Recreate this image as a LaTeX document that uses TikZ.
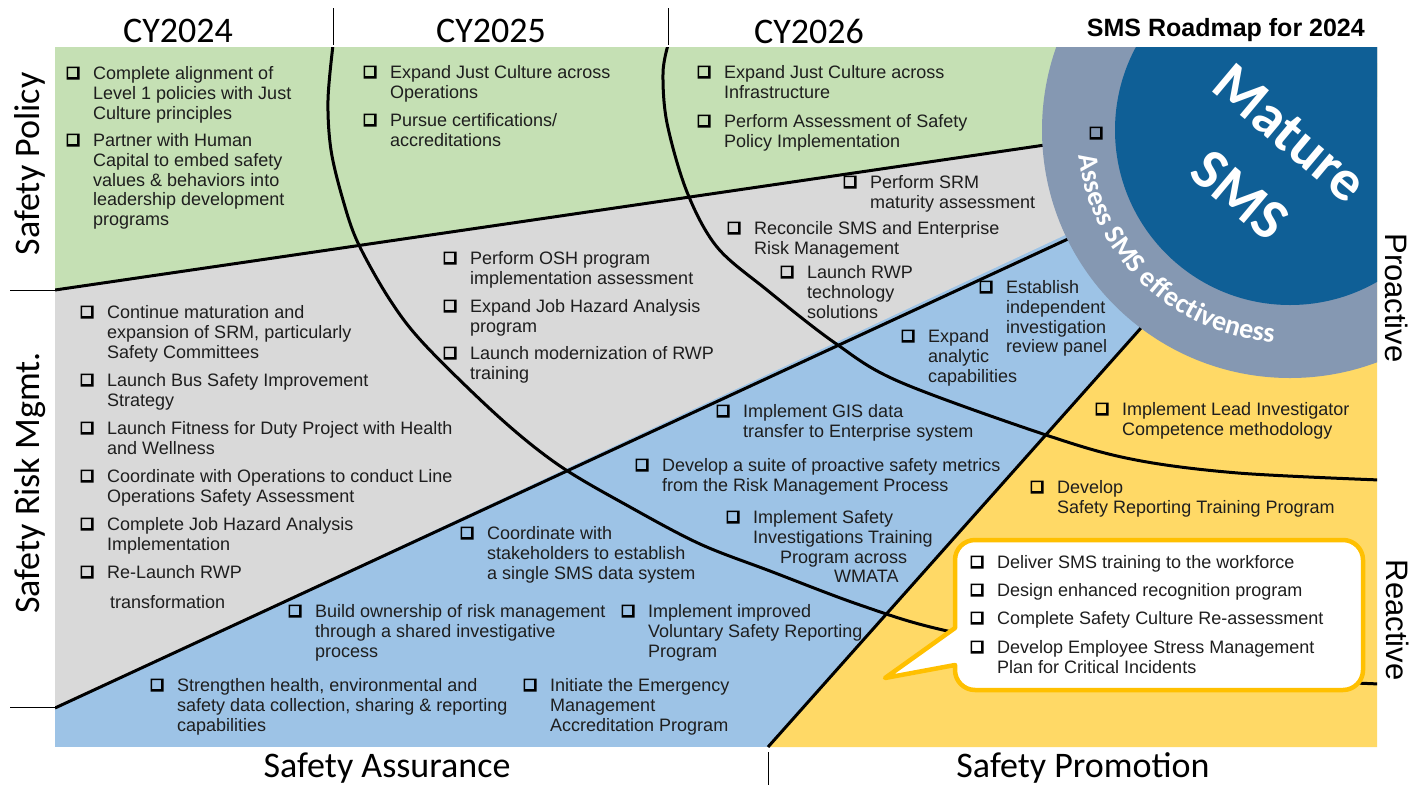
\documentclass[tikz,border=0pt]{standalone}
\usepackage{fontspec}
\setmainfont{Liberation Sans}
\newfontfamily\calfont{Carlito}
\usetikzlibrary{decorations.text}
\definecolor{pgreen}{HTML}{C5E0B4}
\definecolor{pgray}{HTML}{D9D9D9}
\definecolor{pblue}{HTML}{9DC3E6}
\definecolor{pyellow}{HTML}{FFD966}
\definecolor{pring}{HTML}{8598B2}
\definecolor{pdark}{HTML}{0F5F96}
\definecolor{pgold}{HTML}{FFC000}
\definecolor{ptext}{HTML}{1E1E1E}
\tikzset{
  itm/.style={anchor=north west, inner sep=0pt, align=left, font=\fontsize{18}{19.7}\selectfont, text=ptext},
  hdr/.style={font=\calfont\fontsize{36}{40}\selectfont, inner sep=0pt},
  sidelbl/.style={font=\fontsize{31}{34}\selectfont, inner sep=0pt},
  divline/.style={line width=3pt, black},
  tickline/.style={line width=1pt, black},
  cbox/.pic={\fill[black, even odd rule] (-6.5,-6.5) rectangle (6.5,6.5) (-4.9,-4.9) rectangle (4.2,4.2);},
}
\newcommand\bitem[4]{\pic at (#2-20,#3) {cbox}; \node[itm] (#1) at (#2,#3-6.6) {#4};}
\begin{document}
\begin{tikzpicture}[x=1pt,y=-1pt]
\useasboundingbox (0,0) rectangle (1427,785);
\fill[white] (0,0) rectangle (1427,785);
\begin{scope}
\clip (55,47) rectangle (1377,747);
\fill[pblue] (55,47) rectangle (1377,747);
\fill[pgray] (55,708) -- (55,47) -- (1377,47) -- (1377,89) -- cycle;
\fill[pgreen] (55,290) -- (55,47) -- (1377,47) -- (1377,97) -- cycle;
\fill[pyellow] (768,747) -- (1377,747) -- (1377,63) -- cycle;
% boundary lines
\draw[divline] (55,290) -- (1120,134);
\draw[divline] (55,708) -- (1150,201);
\draw[divline] (768,747) -- (1181,283);
% year arcs
\draw[divline] plot[smooth, tension=0.55] coordinates {(333,45) (328,100) (331,150) (343,200) (358,243) (390,300) (425,345) (500,418) (560,466) (630,507) (700,544) (770,571) (860,605) (943,630) (1100,660) (1250,677) (1380,684)};
\draw[divline] plot[smooth, tension=0.55] coordinates {(668,45) (663,73) (667,123) (687,192) (717,247) (767,290) (835,343) (900,382) (1052,437) (1136,460) (1238,473) (1380,480)};
% maturity ring
\fill[pring] (1290,130) circle[radius=248pt];
\fill[pdark] (1290,130) circle[radius=175pt];
\node[rotate=-40, font=\calfont\bfseries\fontsize{58}{58}\selectfont, text=white, inner sep=0pt] (mature) at (1290,133) {Mature};
\node[rotate=-40, font=\calfont\bfseries\fontsize{58}{58}\selectfont, text=white, inner sep=0pt] (sms) at (1240,195) {SMS};
\path[decorate, decoration={text along path, text align=left,
   text={|\color{white}\calfont\bfseries\fontsize{28}{30}\selectfont|Assess SMS effectiveness}}]
   (1290,130) ++(187:213pt) arc[start angle=187, end angle=285, radius=213pt];
\end{scope}
\pic at (1096,133) {cbox};
% speech bubble
\draw[line width=4.5pt, pgold, fill=white, line join=round] (955,628) -- (955,560) arc[start angle=180,end angle=90,radius=20pt] -- (1343,540) arc[start angle=90,end angle=0,radius=20pt] -- (1363,670) arc[start angle=0,end angle=-90,radius=20pt] -- (975,690) arc[start angle=-90,end angle=-180,radius=20pt] -- (955,665) -- (885,678) -- cycle;
% ticks
\draw[tickline] (333,8) -- (333,45);
\draw[tickline] (668,8) -- (668,45);
\draw[tickline] (10,290) -- (55,290);
\draw[tickline] (10,707) -- (55,707);
\draw[tickline] (768,752) -- (768,785);
% headers and side labels
\node[hdr] (cy24) at (178,31) {CY2024};
\node[hdr] (cy25) at (491,31) {CY2025};
\node[hdr] (cy26) at (809,31) {CY2026};
\node[font=\bfseries\fontsize{25}{28}\selectfont, anchor=east, inner sep=0pt] (title) at (1365,30) {SMS Roadmap for 2024};
\node[hdr, rotate=90] (sp) at (30,164) {Safety Policy};
\node[hdr, rotate=90] (srm) at (30,483) {Safety Risk Mgmt.};
\node[hdr] (sa) at (387,768) {Safety Assurance};
\node[hdr] (spr) at (1083,768) {Safety Promotion};
\node[sidelbl, rotate=-90] (pro) at (1397,298) {Proactive};
\node[sidelbl, rotate=-90] (rea) at (1398,620) {Reactive};
% Safety policy items
\bitem{i1}{93}{73}{Complete alignment of\\Level 1 policies with Just\\Culture principles}
\bitem{i2}{93}{140}{Partner with Human\\Capital to embed safety\\values \& behaviors into\\leadership development\\programs}
\bitem{i3}{390}{72}{Expand Just Culture across\\Operations}
\bitem{i4}{390}{120}{Pursue certifications/\\accreditations}
\bitem{i5}{724}{72}{Expand Just Culture across\\Infrastructure}
\bitem{i6}{724}{121}{Perform Assessment of Safety\\Policy Implementation}
% Safety risk management items
\bitem{i7}{870}{182}{Perform SRM\\maturity assessment}
\bitem{i8}{754}{228}{Reconcile SMS and Enterprise\\Risk Management}
\bitem{i9}{807}{272}{Launch RWP\\technology\\solutions}
\bitem{i10}{470}{258}{Perform OSH program\\implementation assessment}
\bitem{i11}{470}{306}{Expand Job Hazard Analysis\\program}
\bitem{i12}{470}{353}{Launch modernization of RWP\\training}
\bitem{i13}{107}{312}{Continue maturation and\\expansion of SRM, particularly\\Safety Committees}
\bitem{i14}{107}{380}{Launch Bus Safety Improvement\\Strategy}
\bitem{i15}{107}{428}{Launch Fitness for Duty Project with Health\\and Wellness}
\bitem{i16}{107}{476}{Coordinate with Operations to conduct Line\\Operations Safety Assessment}
\bitem{i17}{107}{524}{Complete Job Hazard Analysis\\Implementation}
\bitem{i18}{107}{572}{Re-Launch RWP}
\node[itm] (i18b) at (110,595) {transformation};
% Safety assurance items
\bitem{i19}{1006}{287}{Establish\\independent\\investigation\\review panel}
\bitem{i20}{928}{336}{Expand\\analytic\\capabilities}
\bitem{i21}{743}{411}{Implement GIS data\\transfer to Enterprise system}
\bitem{i22}{662}{465}{Develop a suite of proactive safety metrics\\from the Risk Management Process}
\bitem{i23}{753}{517}{Implement Safety\\Investigations Training\\\hspace*{27pt}Program across\\\hspace*{81pt}WMATA}
\bitem{i24}{487}{533}{Coordinate with\\stakeholders to establish\\a single SMS data system}
\bitem{i25}{315}{611}{Build ownership of risk management\\through a shared investigative\\process}
\bitem{i26}{648}{611}{Implement improved\\Voluntary Safety Reporting\\Program}
\bitem{i27}{177}{685}{Strengthen health, environmental and\\safety data collection, sharing \& reporting\\capabilities}
\bitem{i28}{550}{685}{Initiate the Emergency\\Management\\Accreditation Program}
% Safety promotion items
\bitem{i29}{1122}{409}{Implement Lead Investigator\\Competence methodology}
\bitem{i30}{1057}{487}{Develop\\Safety Reporting Training Program}
\bitem{i31}{997}{562}{Deliver SMS training to the workforce}
\bitem{i32}{997}{590}{Design enhanced recognition program}
\bitem{i33}{997}{618}{Complete Safety Culture Re-assessment}
\bitem{i34}{997}{647}{Develop Employee Stress Management\\Plan for Critical Incidents}
\end{tikzpicture}
\end{document}
